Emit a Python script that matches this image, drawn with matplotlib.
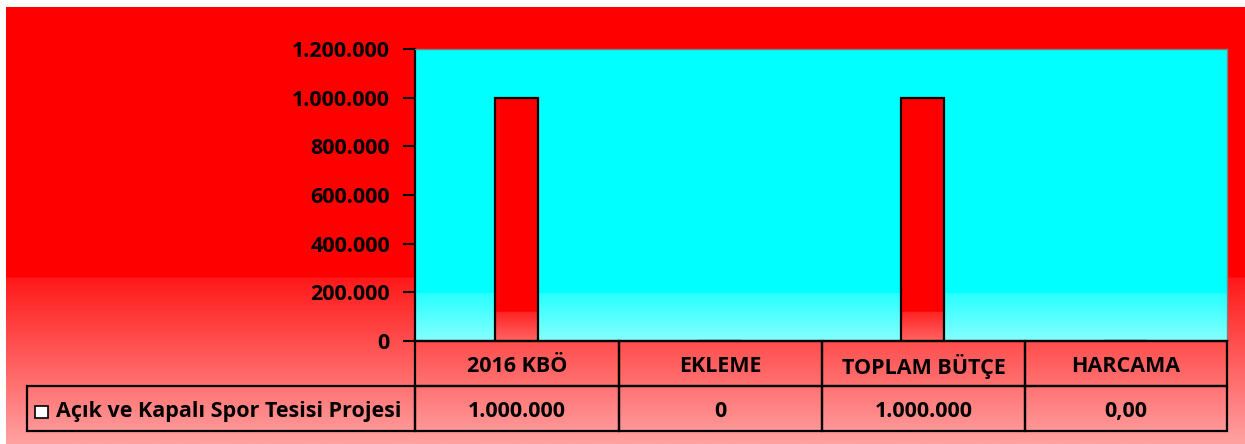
import matplotlib
matplotlib.use('Agg')
import matplotlib.pyplot as plt
from matplotlib.patches import Rectangle
from matplotlib.ticker import FuncFormatter, MultipleLocator
import numpy as np

categories = ['2016 KBÖ', 'EKLEME', 'TOPLAM BÜTÇE', 'HARCAMA']
values = [1000000, 0, 1000000, 0.0]
value_labels = ['1.000.000', '0', '1.000.000', '0,00']
series_name = 'Açık ve Kapalı Spor Tesisi Projesi'

W, H = 1245, 444
plt.rcParams['font.family'] = ['Open Sans', 'DejaVu Sans']
plt.rcParams['font.weight'] = 'bold'
FS = 15.5


def gradient(n_solid, n_fade, solid, start, end):
    # vertical gradient, top row first
    top = np.tile(np.array(solid, float), (n_solid, 1))
    t = np.linspace(0, 1, n_fade)[:, None]
    fade = np.array(start, float) * (1 - t) + np.array(end, float) * t
    return np.vstack([top, fade])[:, None, :] / 255


fig = plt.figure(figsize=(W / 100, H / 100), dpi=100, facecolor='white')

# chart area background (red -> pink)
bg = fig.add_axes([6 / W, 0, 1 - 6 / W, (H - 7) / H])
bg.imshow(gradient(271, 166, (255, 0, 0), (255, 25, 25), (255, 162, 162)),
          aspect='auto', extent=[0, 1, 0, 1])
bg.axis('off')

# plot area
ax = fig.add_axes([415 / W, (H - 341) / H, (1227 - 415) / W, (341 - 49) / H])
ax.patch.set_visible(False)
ax.imshow(gradient(244, 48, (0, 255, 255), (40, 255, 255), (135, 255, 255)),
          aspect='auto', extent=[-0.5, 3.5, 0, 1200000], zorder=0)

x = np.arange(len(categories))
bars = ax.bar(x, values, width=0.215, facecolor='none', edgecolor='black',
              linewidth=1.6, zorder=3)
bar_grad = gradient(880, 120, (255, 0, 0), (255, 35, 35), (255, 100, 100))
for b in bars:
    if b.get_height() > 0:
        im = ax.imshow(bar_grad, aspect='auto', zorder=2,
                       extent=[b.get_x(), b.get_x() + b.get_width(), 0, b.get_height()])
        im.set_clip_path(b)

ax.set_xlim(-0.5, 3.5)
ax.set_ylim(0, 1200000)
ax.yaxis.set_major_locator(MultipleLocator(200000))
ax.yaxis.set_major_formatter(FuncFormatter(lambda v, p: f'{int(v):,}'.replace(',', '.')))
ax.tick_params(axis='y', direction='out', length=9, width=1.5, pad=9, labelsize=FS)
ax.set_xticks([])
for s in ['left', 'bottom']:
    ax.spines[s].set_color('black')
    ax.spines[s].set_linewidth(1.6)
for s in ['top', 'right']:
    ax.spines[s].set_color('#808080')
    ax.spines[s].set_linewidth(1.0)

# data table under the plot
aw = 1227 - 415
ah = 341 - 49
tab = ax.table(cellText=[[series_name] + value_labels],
               colLabels=[''] + categories,
               colWidths=[388, 204, 203, 203, 202],
               cellLoc='center',
               bbox=[(27 - 415) / aw, -90 / ah, 1200 / aw, 90 / ah])
tab.auto_set_font_size(False)
tab.set_fontsize(FS)
for (r, c), cell in tab.get_celld().items():
    cell.set_facecolor('none')
    cell.set_edgecolor('black')
    cell.set_linewidth(1.6)
    cell.get_text().set_fontweight('bold')
    cell.get_text().set_verticalalignment('center_baseline')
    if r == 0 and c == 0:
        cell.set_visible(False)
    if r == 1 and c == 0:
        cell._loc = 'left'
        cell.PAD = 29 / 388
        cell.get_text().set_horizontalalignment('left')

# legend key in the table
ax.add_patch(Rectangle(((35 - 415) / aw, -(418 - 341) / ah), 13 / aw, 12 / ah,
                       transform=ax.transAxes, clip_on=False,
                       facecolor='white', edgecolor='black', linewidth=1.2))

fig.savefig('out.png', dpi=100, facecolor='white')
